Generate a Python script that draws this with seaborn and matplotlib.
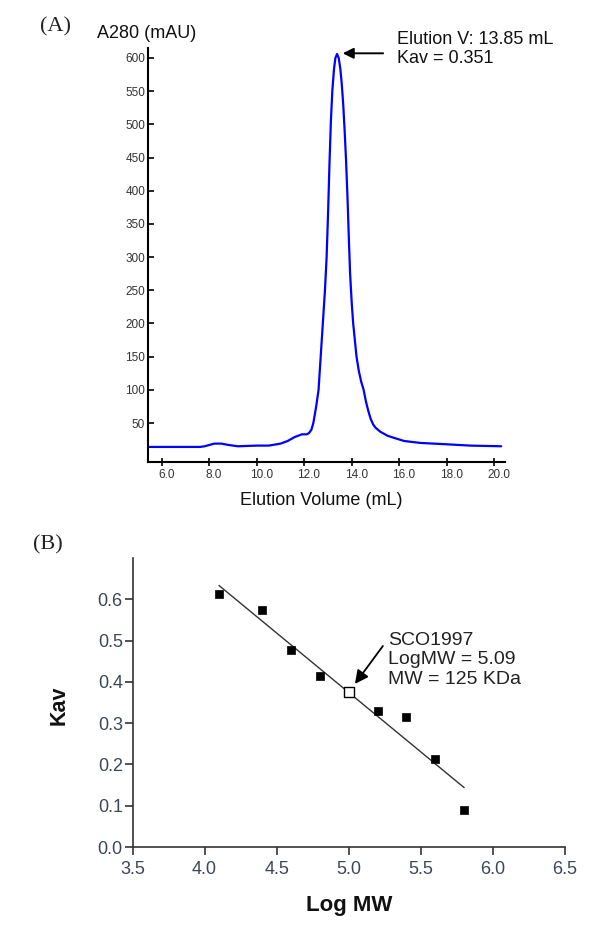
import numpy as np
import pandas as pd
import matplotlib
matplotlib.use("Agg")
import matplotlib.pyplot as plt
import matplotlib.transforms as mtransforms
import seaborn as sns

# ---------------- data ----------------
# Panel A: size-exclusion chromatogram
volume_ml = [5.41, 6.0, 7.0, 7.6, 7.8, 8.0, 8.2, 8.5, 8.8, 9.2, 10.0, 10.5,
             11.0, 11.3, 11.6, 11.9, 12.1, 12.2, 12.3, 12.38, 12.5, 12.6,
             12.69, 12.78, 12.87, 12.94, 13.0, 13.06, 13.12, 13.18, 13.25,
             13.31, 13.38, 13.45, 13.52, 13.58, 13.64, 13.7, 13.76, 13.82,
             13.88, 13.93, 14.0, 14.06, 14.13, 14.2, 14.3, 14.4, 14.5, 14.6,
             14.7, 14.8, 14.9, 15.0, 15.2, 15.5, 15.75, 16.2, 16.9, 18.0,
             19.0, 20.3]
a280_mau = [14, 14, 14, 14, 15, 17, 19, 19, 17, 15, 16, 16,
            19, 23, 29, 33, 33, 35, 40, 50, 75, 100,
            150, 200, 250, 300, 365, 440, 505, 550, 583,
            600, 606, 600, 583, 560, 530, 490, 445, 390,
            325, 275, 230, 200, 175, 150, 128, 112, 100, 82,
            68, 56, 48, 43, 37, 31, 28, 23, 20, 18,
            16, 15]
a_xticks = [6.0, 8.0, 10.0, 12.0, 14.0, 16.0, 18.0, 20.0]
a_yticks = [50, 100, 150, 200, 250, 300, 350, 400, 450, 500, 550, 600]

# Panel B: calibration standards
std_logmw = [4.1, 4.4, 4.6, 4.8, 5.2, 5.4, 5.6, 5.8]
std_kav = [0.612, 0.573, 0.477, 0.414, 0.330, 0.316, 0.212, 0.089]
sample_logmw = [5.0]
sample_kav = [0.376]
b_xticks = [3.5, 4.0, 4.5, 5.0, 5.5, 6.0, 6.5]
b_yticks = [0.0, 0.1, 0.2, 0.3, 0.4, 0.5, 0.6]

chrom = pd.DataFrame({"vol": volume_ml, "a280": a280_mau})
stds = pd.DataFrame({"logmw": std_logmw, "kav": std_kav})
sample = pd.DataFrame({"logmw": sample_logmw, "kav": sample_kav})

# ---------------- style ----------------
sns.set_style("white")
plt.rcParams["font.family"] = ["Liberation Sans", "DejaVu Sans"]

fig = plt.figure(figsize=(6.0, 9.3), dpi=100)
W, H = 600, 930

def ax_rect(l, r, t, b):
    return [l / W, 1 - b / H, (r - l) / W, (b - t) / H]

# ---------------- Panel A ----------------
axA = fig.add_axes(ax_rect(148, 505, 48, 462))
sns.lineplot(data=chrom, x="vol", y="a280", ax=axA, color="#0000ff",
             linewidth=1.6, sort=False, estimator=None)
axA.set_xlim(5.41, 20.46)
axA.set_ylim(-8.7, 615)
axA.set_xticks(a_xticks)
axA.set_xticklabels([f"{v:.1f}" for v in a_xticks])
axA.set_yticks(a_yticks)
axA.set_yticklabels([str(v) for v in a_yticks])
for s in ["top", "right"]:
    axA.spines[s].set_visible(False)
for s in ["left", "bottom"]:
    axA.spines[s].set_linewidth(1.5)
    axA.spines[s].set_color("black")
axA.tick_params(axis="y", direction="in", length=4, width=1.2, pad=2,
                labelsize=8.5, labelcolor="#333333", color="black", left=True)
axA.tick_params(axis="x", direction="inout", length=6, width=1.2, pad=2,
                labelsize=8.5, labelcolor="#333333", color="black", bottom=True)
offset = mtransforms.ScaledTranslation(4.5 / 100, 0, fig.dpi_scale_trans)
for lbl in axA.get_xticklabels():
    lbl.set_transform(lbl.get_transform() + offset)
axA.set_xlabel("Elution Volume (mL)", fontsize=13, color="#111111")
axA.xaxis.set_label_coords(0.486, -0.072)
axA.set_ylabel("")
fig.text(97 / W, 1 - 34 / H, "A280 (mAU)", fontsize=13, ha="left",
         va="center", color="#111111")
axA.annotate("", xy=(13.62, 607), xytext=(15.32, 607),
             arrowprops=dict(arrowstyle="-|>", color="black", lw=1.4,
                             mutation_scale=16, shrinkA=0, shrinkB=0),
             annotation_clip=False)
axA.text(15.91, 613.5, "Elution V: 13.85 mL\nKav = 0.351", fontsize=13,
         ha="left", va="center", color="#111111", linespacing=1.22,
         clip_on=False)
fig.text(40 / W, 1 - 27 / H, "(A)", fontsize=16, family="Liberation Serif",
         ha="left", va="center", color="#222222")

# ---------------- Panel B ----------------
axB = fig.add_axes(ax_rect(132.5, 565, 558, 847))
sns.regplot(data=stds, x="logmw", y="kav", ax=axB, scatter=False, ci=None,
            truncate=True, line_kws=dict(color="#333333", linewidth=1.0))
sns.scatterplot(data=stds, x="logmw", y="kav", ax=axB, marker="s", s=30,
                color="black", edgecolor="black", linewidth=0.5, zorder=3)
sns.scatterplot(data=sample, x="logmw", y="kav", ax=axB, marker="s", s=60,
                facecolor="white", edgecolor="black", linewidth=1.0, zorder=4)
axB.set_xlim(3.5, 6.5)
axB.set_ylim(0.0, 0.7)
axB.set_xticks(b_xticks)
axB.set_xticklabels([f"{v:.1f}" for v in b_xticks])
axB.set_yticks(b_yticks)
axB.set_yticklabels([f"{v:.1f}" for v in b_yticks])
for s in ["top", "right"]:
    axB.spines[s].set_visible(False)
for s in ["left", "bottom"]:
    axB.spines[s].set_linewidth(1.2)
    axB.spines[s].set_color("#333333")
axB.tick_params(axis="both", direction="out", length=6, width=1.2,
                labelsize=13, labelcolor="#3c4658", color="#333333",
                left=True, bottom=True)
axB.tick_params(axis="y", pad=1)
axB.tick_params(axis="x", pad=4)
axB.set_xlabel("Log MW", fontsize=16, fontweight="bold", color="#111111")
axB.xaxis.set_label_coords(0.5, -0.165)
axB.set_ylabel("Kav", fontsize=15.5, fontweight="bold", color="#111111")
axB.yaxis.set_label_coords(-0.145, 0.49)
axB.annotate("", xy=(5.043, 0.395), xytext=(5.237, 0.487),
             arrowprops=dict(arrowstyle="-|>", color="black", lw=1.3,
                             mutation_scale=20, shrinkA=0, shrinkB=0))
axB.text(5.272, 0.453, "SCO1997\nLogMW = 5.09\nMW = 125 KDa", fontsize=14,
         ha="left", va="center", color="#222222", linespacing=1.18)
fig.text(33 / W, 1 - 545 / H, "(B)", fontsize=16, family="Liberation Serif",
         ha="left", va="center", color="#222222")

fig.savefig("out.png", dpi=100, facecolor="white")
